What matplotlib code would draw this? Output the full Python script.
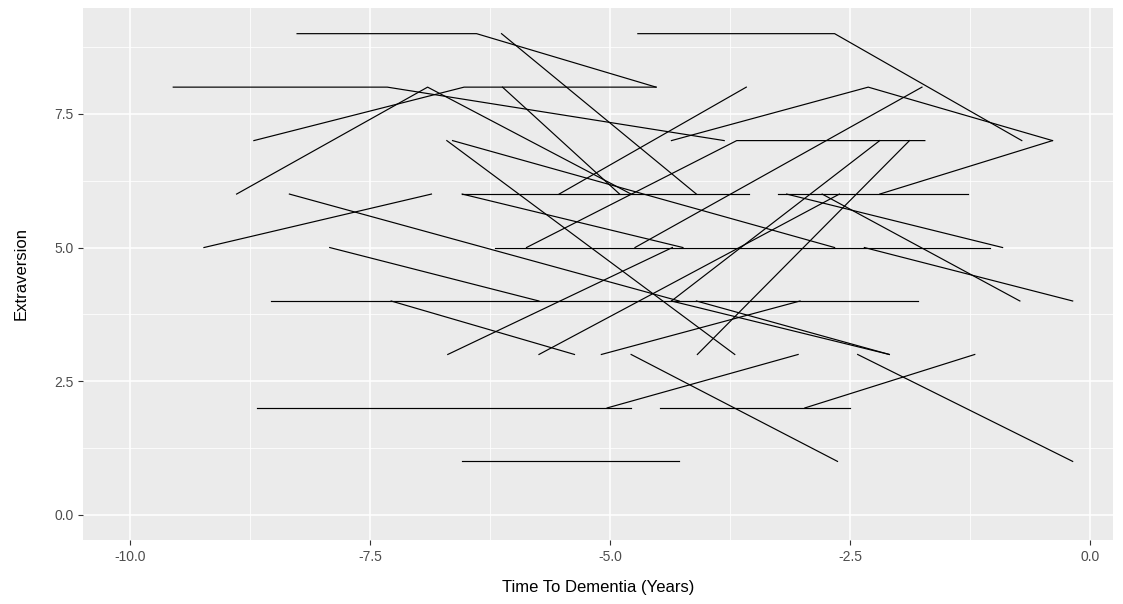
import numpy as np
import pandas as pd
import matplotlib.pyplot as plt

plt.rcParams['font.family'] = ['Liberation Sans', 'DejaVu Sans']

# long format: one row per visit
subject = [1, 1, 1, 2, 2, 2, 3, 3, 3, 4, 4, 4, 5, 5, 6, 6,
           7, 7, 7, 8, 8, 8, 9, 9, 10, 10, 10, 11, 11, 12, 12,
           13, 13, 14, 14, 15, 15, 16, 16, 17, 17, 18, 18, 19, 19,
           20, 20, 21, 21, 22, 22, 23, 23, 24, 24, 25, 25, 26, 26,
           27, 27, 28, 28, 29, 29, 30, 30, 31, 31, 32, 32, 33, 33,
           34, 34, 35, 35, 36, 36, 37, 37, 38, 38, 39, 39, 40, 40]
years = [-8.26, -6.39, -4.52, -9.55, -7.32, -3.81, -8.71, -6.52, -4.52,
         -8.89, -6.90, -4.78, -6.13, -4.10, -6.12, -4.90,
         -4.71, -2.66, -0.71, -4.36, -2.31, -0.39, -5.53, -3.58,
         -5.87, -3.68, -1.72, -9.23, -6.86, -8.34, -4.28,
         -7.92, -5.74, -7.28, -5.37, -8.53, -1.79, -8.68, -4.78,
         -5.03, -3.04, -6.54, -4.28, -4.48, -2.50, -2.97, -1.20,
         -4.78, -2.63, -2.42, -0.18, -6.69, -4.35, -5.74, -2.61,
         -5.09, -3.02, -4.09, -1.88, -6.70, -3.70, -4.36, -2.09,
         -4.10, -2.09, -2.35, -0.18, -6.20, -1.04, -6.54, -3.55,
         -3.25, -1.27, -2.19, -0.39, -2.79, -0.73, -3.16, -0.91,
         -6.64, -2.66, -6.54, -4.24, -4.36, -2.19, -4.74, -1.75]
extraversion = [9, 9, 8, 8, 8, 7, 7, 8, 8, 6, 8, 6, 9, 6, 8, 6,
                9, 9, 7, 7, 8, 7, 6, 8, 5, 7, 7, 5, 6, 6, 4,
                5, 4, 4, 3, 4, 4, 2, 2, 2, 3, 1, 1, 2, 2, 2, 3,
                3, 1, 3, 1, 3, 5, 3, 6, 3, 4, 3, 7, 7, 3, 4, 3,
                4, 3, 5, 4, 5, 5, 6, 6, 6, 6, 6, 7, 6, 4, 6, 5,
                7, 5, 6, 5, 4, 7, 5, 8]

df = pd.DataFrame({"subject": subject, "years": years, "extraversion": extraversion})

fig = plt.figure(figsize=(11.23, 6.04), dpi=100)
ax = fig.add_axes([83 / 1123, 64 / 604, 1030 / 1123, 532 / 604])
ax.set_facecolor("#EBEBEB")

# geom_line style: each subject joined in time order
for sid, g in df.groupby("subject"):
    g = g.sort_values("years")
    ax.plot(g["years"], g["extraversion"], color="black", lw=0.85, zorder=3)

ax.set_xlim(-10.49, 0.24)
ax.set_ylim(-0.47, 9.48)
ax.set_xticks([-10, -7.5, -5, -2.5, 0])
ax.set_xticklabels(["-10.0", "-7.5", "-5.0", "-2.5", "0.0"])
ax.set_yticks([0, 2.5, 5, 7.5])
ax.set_yticklabels(["0.0", "2.5", "5.0", "7.5"])
ax.set_xticks([-8.75, -6.25, -3.75, -1.25], minor=True)
ax.set_yticks([1.25, 3.75, 6.25, 8.75], minor=True)
ax.grid(True, which="major", color="white", lw=1.1, zorder=0)
ax.grid(True, which="minor", color="white", lw=0.55, zorder=0)
ax.set_axisbelow(True)
for s in ax.spines.values():
    s.set_visible(False)
ax.tick_params(which="major", length=3.5, color="#333333", labelcolor="#4D4D4D", labelsize=10)
ax.tick_params(which="minor", length=0)

ax.set_xlabel("Time To Dementia (Years)", fontsize=12, labelpad=12)
ax.set_ylabel("Extraversion", fontsize=12, labelpad=18)

fig.savefig("out.png", dpi=100)
